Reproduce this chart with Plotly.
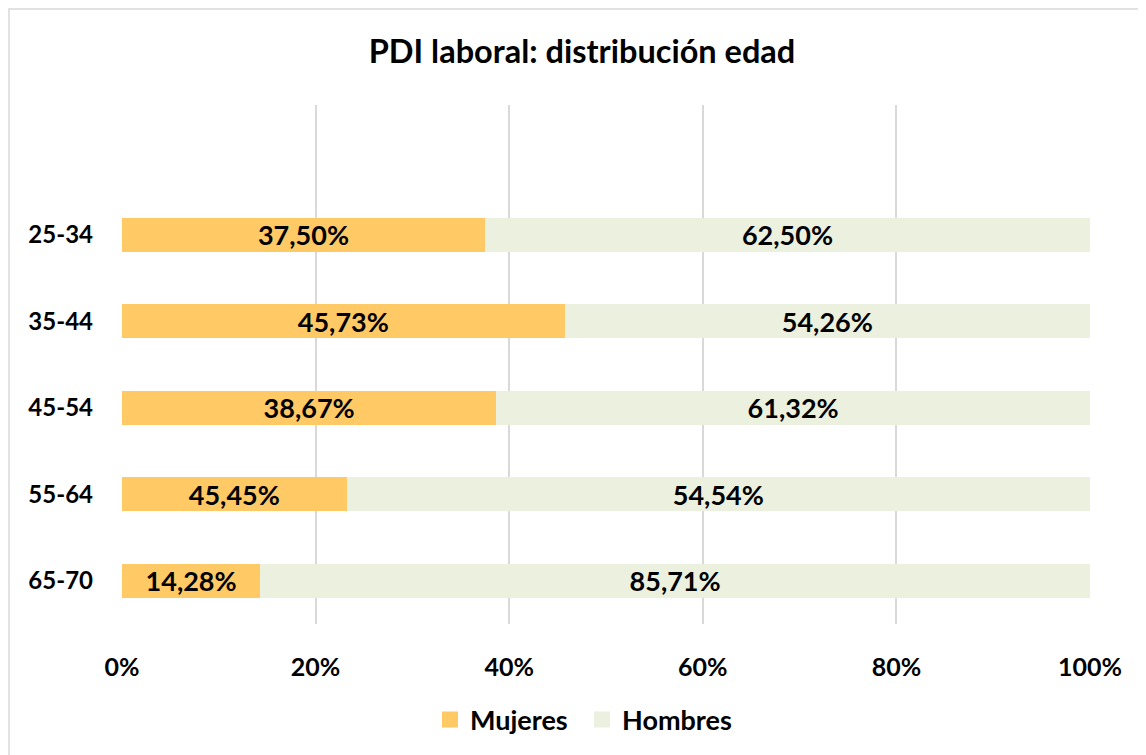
import plotly.graph_objects as go

categories = ["25-34", "35-44", "45-54", "55-64", "65-70"]
# bar lengths as drawn (percent of total)
mujeres_bar = [37.50, 45.73, 38.67, 23.20, 14.28]
hombres_bar = [62.50, 54.27, 61.33, 76.80, 85.72]
# data labels as printed
mujeres_lbl = ["37,50%", "45,73%", "38,67%", "45,45%", "14,28%"]
hombres_lbl = ["62,50%", "54,26%", "61,32%", "54,54%", "85,71%"]
xticks = [0, 20, 40, 60, 80, 100]
xticklabels = ["0%", "20%", "40%", "60%", "80%", "100%"]

FONT = "Lato"
C_M = "#FFC966"
C_H = "#EBF0DF"

order = list(reversed(categories))  # bottom to top

fig = go.Figure()
for vals, lbls, name, col in [(mujeres_bar, mujeres_lbl, "Mujeres", C_M),
                              (hombres_bar, hombres_lbl, "Hombres", C_H)]:
    fig.add_trace(go.Bar(
        y=categories, x=vals, name=name, orientation="h",
        marker=dict(color=col, line=dict(width=0)), width=0.39,
        text=lbls, textposition="inside", insidetextanchor="middle",
        constraintext="none", textangle=0,
        textfont=dict(family=FONT, size=27, color="black", weight="bold"),
        hoverinfo="skip", cliponaxis=False, showlegend=False,
    ))
# legend entries with larger square swatches
for name, col in [("Mujeres", C_M), ("Hombres", C_H)]:
    fig.add_trace(go.Scatter(
        x=[None], y=[None], mode="markers", name=name,
        marker=dict(symbol="square", size=16, color=col, line=dict(width=0)),
        hoverinfo="skip",
    ))

OFF = 8  # page body margin
W, H = 1146, 755
# target pixel positions in the screenshot
PL, PR, PT, PB = 122, 1090, 105, 624
L, T = PL - OFF, PT - OFF
R = W - (PR - OFF)
B = H - (PB - OFF)
pw, ph = W - L - R, H - T - B

def px_x(x):
    return (x - OFF - L) / pw

def px_y(y):
    return (PB - y) / ph

fig.update_layout(
    width=W, height=H,
    barmode="stack",
    margin=dict(l=L, r=R, t=T, b=B, autoexpand=False),
    paper_bgcolor="white", plot_bgcolor="white",
    title=dict(text="PDI laboral: distribución edad", x=px_x(582), xref="paper",
               xanchor="center",
               y=1 - (52 - OFF) / H, yanchor="middle",
               font=dict(family=FONT, size=32.5, color="black", weight="bold")),
    xaxis=dict(range=[0, 100], tickvals=xticks, ticktext=xticklabels,
               showgrid=True, gridcolor="#D9D9D9", gridwidth=1.5,
               zeroline=False, showline=False, ticks="",
               tickfont=dict(family=FONT, size=25, color="black", weight="bold"),
               ticklabelstandoff=26, fixedrange=True),
    yaxis=dict(categoryorder="array", categoryarray=order, range=[-0.5, 5.5],
               showgrid=False, zeroline=False, showline=False, ticks="",
               tickfont=dict(family=FONT, size=24, color="black", weight="bold"),
               ticklabelstandoff=28, fixedrange=True),
    legend=dict(orientation="h", x=px_x(430), xanchor="left", y=px_y(720), yanchor="middle",
                font=dict(family=FONT, size=27, color="black", weight="bold"),
                traceorder="normal", itemsizing="trace", entrywidth=107,
                entrywidthmode="pixels"),
    uniformtext=dict(mode=False),
    shapes=[dict(type="rect", xref="paper", yref="paper",
                 x0=px_x(9), x1=px_x(W + 30), y0=px_y(H + 30), y1=px_y(9),
                 line=dict(color="#D9D9D9", width=1.5), fillcolor="rgba(0,0,0,0)",
                 layer="below")],
)

fig.write_html("out.html")
